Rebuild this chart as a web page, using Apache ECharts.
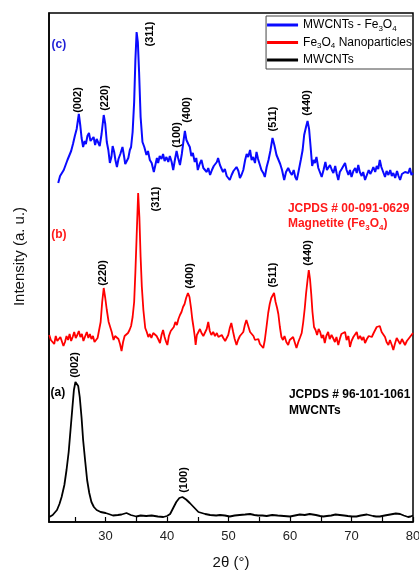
<!DOCTYPE html>
<html>
<head>
<meta charset="utf-8">
<script src="https://cdn.jsdelivr.net/npm/echarts@6/dist/echarts.min.js"></script>
<style>
html,body{margin:0;padding:0;background:#fff;}
#xrd{width:419px;height:571px;}
</style>
</head>
<body>
<div id="xrd"></div>
<script>
// 数据：2θ (°) 与强度 (a. u.)，三条曲线按原图垂直错开
var seriesNames = ["MWCNTs - Fe3O4", "Fe3O4 Nanoparticles", "MWCNTs"];

var compositeData = [
	[22.3,339],[22.6,346],[22.9,344],[23.2,352],[23.5,354],[23.8,362],[24.1,360],[24.4,371],[24.7,378],[25.0,386],
	[25.3,393],[25.65,408],[25.9,396],[26.1,384],[26.35,375],[26.6,381],[26.8,378],[27.05,386],[27.3,389],[27.55,381],
	[27.8,380],[28.05,385],[28.3,377],[28.55,383],[28.8,381],[29.05,376],[29.35,388],[29.7,407],[29.95,398],[30.2,380],
	[30.45,372],[30.7,359],[30.95,365],[31.15,376],[31.4,370],[31.6,362],[31.85,355],[32.1,363],[32.4,368],[32.75,375],
	[33.0,366],[33.2,358],[33.45,357],[33.7,364],[33.95,372],[34.15,375],[34.4,390],[34.65,420],[34.85,462],[35.05,490],
	[35.25,480],[35.45,450],[35.7,405],[36.0,380],[36.3,375],[36.65,367],[36.9,371],[37.2,362],[37.5,359],[37.85,350],
	[38.1,357],[38.35,364],[38.55,359],[38.8,366],[39.1,363],[39.35,368],[39.6,361],[39.9,365],[40.2,360],[40.45,366],
	[40.75,360],[41.0,352],[41.3,363],[41.55,371],[41.8,364],[42.1,357],[42.4,368],[42.65,380],[42.9,391],[43.15,382],
	[43.45,378],[43.7,375],[43.95,366],[44.2,369],[44.5,360],[44.75,364],[45.0,352],[45.3,358],[45.6,362],[45.9,354],
	[46.15,355],[46.45,350],[46.7,354],[47.0,347],[47.3,352],[47.6,356],[47.9,354],[48.1,360],[48.3,364],[48.6,357],
	[48.85,356],[49.1,350],[49.4,353],[49.7,346],[49.95,348],[50.2,342],[50.5,347],[50.8,351],[51.05,349],[51.3,355],
	[51.6,351],[51.85,344],[52.1,347],[52.4,352],[52.7,362],[52.95,368],[53.2,365],[53.5,372],[53.75,362],[54.0,365],
	[54.3,359],[54.55,370],[54.8,363],[55.1,357],[55.35,352],[55.65,349],[55.9,345],[56.2,355],[56.5,362],[56.8,371],
	[57.15,384],[57.45,377],[57.8,367],[58.1,365],[58.4,358],[58.7,352],[59.05,342],[59.35,350],[59.7,354],[60.0,350],
	[60.3,347],[60.6,352],[60.85,345],[61.1,342],[61.4,351],[61.75,362],[62.05,372],[62.3,387],[62.6,395],[62.85,401],
	[63.1,393],[63.35,375],[63.6,356],[63.85,362],[64.05,359],[64.3,365],[64.6,354],[64.85,350],[65.15,345],[65.45,352],
	[65.75,360],[66.0,352],[66.25,350],[66.5,357],[66.8,352],[67.05,349],[67.35,356],[67.6,348],[67.85,342],[68.1,350],
	[68.4,353],[68.65,351],[68.95,359],[69.2,352],[69.5,347],[69.75,352],[70.0,345],[70.3,351],[70.6,354],[70.85,349],
	[71.1,357],[71.35,350],[71.65,346],[71.9,350],[72.2,342],[72.5,347],[72.8,352],[73.05,348],[73.3,351],[73.55,355],
	[73.85,350],[74.1,356],[74.35,353],[74.6,362],[74.85,355],[75.15,350],[75.45,345],[75.7,351],[76.0,347],[76.3,352],
	[76.55,346],[76.8,349],[77.1,344],[77.4,351],[77.65,346],[77.9,342],[78.2,348],[78.45,346],[78.7,350],[79.0,352],
	[79.25,349],[79.5,354],[79.75,347],[80.0,349]
];

var magnetiteData = [
	[20.85,187],[21.1,182],[21.4,184],[21.65,178],[21.9,186],[22.15,181],[22.4,179],[22.65,185],[22.9,183],[23.15,176],
	[23.4,180],[23.65,186],[23.9,182],[24.15,188],[24.4,181],[24.65,185],[24.9,190],[25.15,184],[25.4,187],[25.65,191],
	[25.9,185],[26.15,188],[26.4,181],[26.7,186],[26.95,190],[27.2,184],[27.45,188],[27.7,183],[27.95,186],[28.2,180],
	[28.45,179],[28.7,184],[28.95,186],[29.2,200],[29.45,220],[29.7,234],[29.95,224],[30.2,212],[30.5,200],[30.75,195],
	[31.0,190],[31.3,182],[31.55,186],[31.85,188],[32.1,183],[32.35,178],[32.6,171],[32.85,180],[33.1,186],[33.35,184],
	[33.65,189],[33.9,192],[34.15,196],[34.4,205],[34.65,220],[34.85,250],[35.05,285],[35.3,329],[35.5,305],[35.7,265],
	[35.9,235],[36.15,212],[36.45,194],[36.7,190],[36.95,185],[37.2,188],[37.45,184],[37.75,189],[38.0,191],[38.3,186],
	[38.55,183],[38.85,179],[39.1,187],[39.35,192],[39.6,185],[39.85,180],[40.05,177],[40.3,186],[40.6,191],[40.85,192],
	[41.1,195],[41.35,200],[41.6,197],[41.85,203],[42.1,207],[42.35,210],[42.6,215],[42.85,218],[43.1,224],[43.4,229],
	[43.65,225],[43.9,214],[44.1,203],[44.3,195],[44.5,186],[44.65,177],[44.85,187],[45.1,190],[45.35,193],[45.6,189],
	[45.9,186],[46.15,185],[46.45,193],[46.7,200],[46.95,191],[47.2,187],[47.5,190],[47.8,186],[48.1,189],[48.35,185],
	[48.6,183],[48.9,187],[49.15,184],[49.45,181],[49.7,179],[49.95,187],[50.2,194],[50.45,199],[50.75,190],[51.0,183],
	[51.3,177],[51.55,182],[51.85,186],[52.1,184],[52.4,190],[52.65,197],[52.9,202],[53.2,196],[53.5,190],[53.75,191],
	[54.05,186],[54.3,182],[54.55,180],[54.85,183],[55.1,178],[55.35,176],[55.65,174],[55.9,182],[56.15,194],[56.45,209],
	[56.7,218],[56.95,224],[57.2,226],[57.4,229],[57.65,220],[57.9,214],[58.1,208],[58.35,195],[58.6,185],[58.85,182],
	[59.1,186],[59.4,180],[59.7,177],[59.95,182],[60.2,180],[60.5,185],[60.8,179],[61.05,174],[61.35,180],[61.6,184],
	[61.9,189],[62.15,200],[62.4,214],[62.6,228],[62.85,242],[63.05,252],[63.25,243],[63.45,228],[63.65,210],[63.9,195],
	[64.15,192],[64.4,187],[64.65,193],[64.9,190],[65.15,184],[65.4,187],[65.65,179],[65.9,186],[66.2,190],[66.45,183],
	[66.75,187],[67.0,184],[67.3,180],[67.55,185],[67.85,177],[68.1,183],[68.35,188],[68.65,186],[68.95,190],[69.2,182],
	[69.5,186],[69.75,175],[70.0,181],[70.3,185],[70.55,187],[70.85,190],[71.1,183],[71.4,186],[71.7,182],[71.95,185],
	[72.2,179],[72.5,183],[72.8,186],[73.05,184],[73.3,185],[73.6,189],[73.85,192],[74.1,195],[74.35,197],[74.6,196],
	[74.9,190],[75.15,192],[75.45,185],[75.7,180],[76.0,177],[76.25,182],[76.55,177],[76.8,172],[77.05,178],[77.35,184],
	[77.6,182],[77.9,178],[78.2,183],[78.45,180],[78.7,177],[79.0,181],[79.25,183],[79.5,185],[79.75,187],[80.0,189]
];

var mwcntData = [
	[20.85,5],[21.4,7],[22.1,12],[22.5,18],[22.85,25],[23.3,37],[23.65,52],[24.0,70],[24.3,92],[24.6,114],
	[24.85,132],[25.1,140],[25.3,141],[25.55,136],[25.8,125],[26.1,104],[26.35,82],[26.7,60],[27.0,42],[27.35,29],
	[27.7,20],[28.1,15],[28.55,12],[29.2,10],[30.0,9],[30.5,8],[31.2,6.5],[32.0,7],[32.6,7.5],[33.4,9],
	[34.1,7],[35.0,5.5],[35.7,6.5],[36.6,6],[37.5,6.5],[38.5,5.5],[39.4,5],[40.0,6],[40.5,8],[41.0,14],
	[41.5,20],[42.0,24],[42.5,25],[43.1,22.5],[43.7,19],[44.4,14.5],[45.1,10],[46.2,8],[47.0,7],[48.0,6.5],
	[48.6,7],[49.4,6.5],[50.2,5.5],[51.0,6.5],[51.8,7],[52.7,7.5],[53.5,8],[54.2,7],[54.8,6.5],[55.5,6.5],
	[56.2,6],[57.1,7],[58.0,6.5],[59.0,6],[60.0,5.5],[60.8,6.5],[61.6,7.5],[62.4,7],[63.2,8],[64.2,7],
	[64.9,6],[65.4,5.5],[66.0,6],[66.7,6.5],[67.4,7.5],[68.1,7],[68.8,6.5],[69.4,6],[70.1,5.5],[70.8,5.5],
	[71.5,6.5],[72.5,7.5],[73.5,6],[74.0,5.5],[74.6,5.5],[75.4,6.5],[76.3,7.5],[77.2,8.5],[77.9,8],[78.5,6.5],
	[79.2,5],[79.6,5.5],[80.0,6.5]
];

// 横轴刻度
var tickValues = [25, 30, 35, 40, 45, 50, 55, 60, 65, 70, 75, 80];
var labelValues = [30, 40, 50, 60, 70, 80];

// 标注：[文字, 2θ, 强度]
var hklLabels = [
	["(002)", 25.44, 422], ["(220)", 29.89, 424], ["(311)", 37.21, 488], ["(100)", 41.6, 387],
	["(400)", 43.23, 412], ["(511)", 57.22, 403], ["(440)", 62.75, 419],
	["(220)", 29.61, 249], ["(311)", 38.18, 323], ["(400)", 43.72, 246], ["(511)", 57.22, 247],
	["(440)", 62.87, 269],
	["(002)", 25.09, 157], ["(100)", 42.74, 42]
];
var sampleTags = [["(c)", 22.4, 477, "#1f1fd6"], ["(b)", 22.4, 287, "#ff1a1a"], ["(a)", 22.24, 129, "#000"]];
var refNotes = [
	["JCPDS # 00-091-0629", 59.66, 313, "#ff1a1a"], ["Magnetite (Fe3O4)", 59.66, 298, "#ff1a1a"],
	["JCPDS # 96-101-1061", 59.82, 127, "#000"], ["MWCNTs", 59.82, 111, "#000"]
];

var FONT = "'Liberation Sans', Arial, sans-serif";

//Fe3O4 下标
function feRich(txt, key){
	return txt.split("Fe3O4").map(function(p){
		return p ? "{" + key + "|" + p + "}" : "";
	}).join("{" + key + "|Fe}{" + key + "s|3}{" + key + "|O}{" + key + "s|4}");
}

var myChart = echarts.init(document.getElementById("xrd"));
var option = {
	backgroundColor: "#fff",
	animation: false,
	grid: {
		left: 49, right: 6, top: 13, bottom: 49,
		outerBoundsMode: "none",
		show: true, borderColor: "#000", borderWidth: 1.5
	},
	legend: {
		right: 6, top: 16,
		orient: "vertical",
		padding: [3, 1, 3, 1],
		itemGap: 4,
		itemWidth: 31, itemHeight: 3,
		icon: "rect",
		borderColor: "#444", borderWidth: 1,
		data: seriesNames,
		formatter: function(name){ return feRich(name, "n"); },
		textStyle: {
			rich: {
				n: {fontSize: 12, lineHeight: 15, color: "#000", fontFamily: FONT},
				ns: {fontSize: 8, lineHeight: 6, verticalAlign: "bottom", color: "#000", fontFamily: FONT}
			}
		}
	},
	xAxis: {
		type: "value",
		min: 20.8, max: 80,
		name: "2θ (°)",
		nameLocation: "middle",
		nameGap: 33,
		nameTextStyle: {fontSize: 15, color: "#111", fontFamily: FONT},
		axisLine: {lineStyle: {color: "#000", width: 1.5}},
		axisTick: {inside: true, length: 5, customValues: tickValues, lineStyle: {color: "#000", width: 1.2}},
		axisLabel: {customValues: labelValues, fontSize: 13, color: "#222", margin: 8, fontFamily: FONT},
		splitLine: {show: false}
	},
	yAxis: {
		type: "value",
		min: 0, max: 509,
		name: "Intensity (a. u.)",
		nameLocation: "middle",
		nameGap: 22,
		nameTextStyle: {fontSize: 15, color: "#111", fontFamily: FONT, padding: [0, 0, 0, 22]},
		axisLine: {show: true, lineStyle: {color: "#000", width: 1.5}},
		axisTick: {show: false},
		axisLabel: {show: false},
		splitLine: {show: false}
	},
	series: [
		{name: seriesNames[0], type: "line", data: compositeData, symbol: "none", color: "#0a0aff",
			lineStyle: {width: 2, color: "#0a0aff"}},
		{name: seriesNames[1], type: "line", data: magnetiteData, symbol: "none", color: "#ff0000",
			lineStyle: {width: 1.8, color: "#ff0000"}},
		{name: seriesNames[2], type: "line", data: mwcntData, symbol: "none", color: "#000",
			lineStyle: {width: 1.8, color: "#000"}}
	]
};
myChart.setOption(option);

//标注文字，按数据坐标换算成像素
var graphics = [];
hklLabels.forEach(function(item){
	var p = myChart.convertToPixel({gridIndex: 0}, [item[1], item[2]]);
	graphics.push({
		type: "text", x: p[0], y: p[1], rotation: Math.PI / 2, z: 10,
		style: {text: item[0], fill: "#000", font: "bold 11px " + FONT, align: "center", verticalAlign: "middle"}
	});
});
sampleTags.forEach(function(item){
	var p = myChart.convertToPixel({gridIndex: 0}, [item[1], item[2]]);
	graphics.push({
		type: "text", x: p[0], y: p[1], z: 10,
		style: {text: item[0], fill: item[3], font: "bold 12px " + FONT, align: "center", verticalAlign: "middle"}
	});
});
refNotes.forEach(function(item){
	var p = myChart.convertToPixel({gridIndex: 0}, [item[1], item[2]]);
	graphics.push({
		type: "text", x: p[0], y: p[1], z: 10,
		style: {
			text: feRich(item[0], "r"), align: "left", verticalAlign: "middle",
			rich: {
				r: {fontSize: 12, fontWeight: "bold", lineHeight: 15, fill: item[3], fontFamily: FONT},
				rs: {fontSize: 8, fontWeight: "bold", lineHeight: 6, verticalAlign: "bottom", fill: item[3], fontFamily: FONT}
			}
		}
	});
});
myChart.setOption({graphic: graphics});
</script>
</body>
</html>
